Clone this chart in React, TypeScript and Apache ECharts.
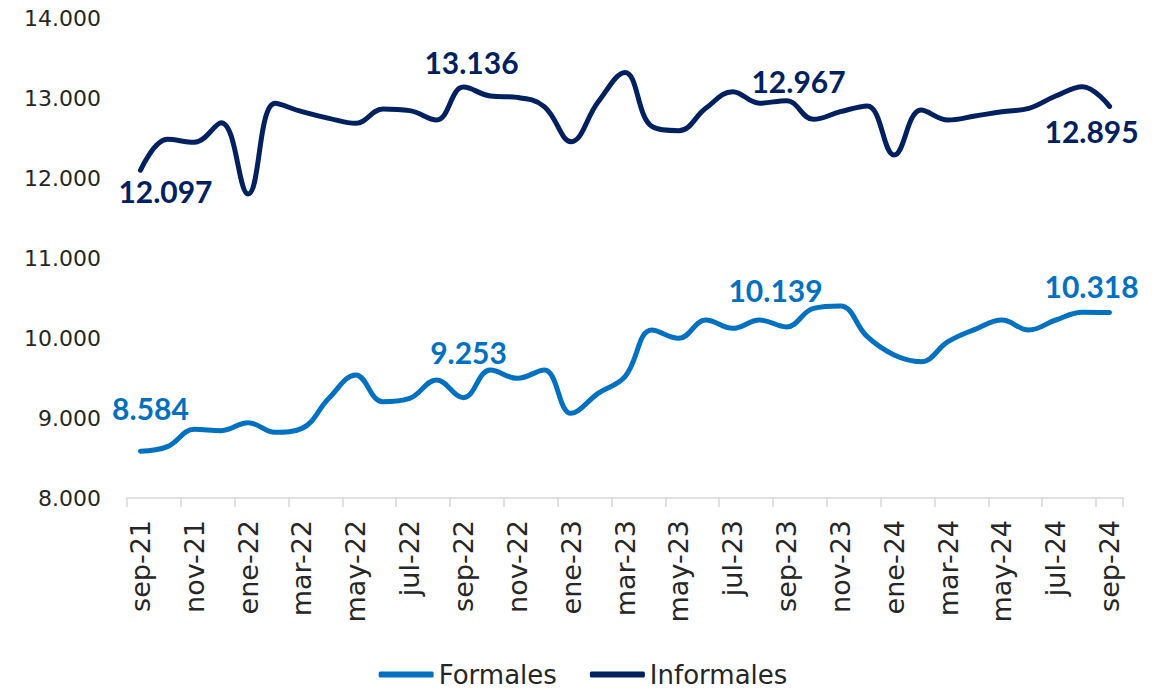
import React, { useEffect, useRef } from "react";
import * as echarts from "echarts";

const categories = [
  "sep-21", "oct-21", "nov-21", "dic-21", "ene-22", "feb-22", "mar-22", "abr-22", "may-22", "jun-22",
  "jul-22", "ago-22", "sep-22", "oct-22", "nov-22", "dic-22", "ene-23", "feb-23", "mar-23", "abr-23",
  "may-23", "jun-23", "jul-23", "ago-23", "sep-23", "oct-23", "nov-23", "dic-23", "ene-24", "feb-24",
  "mar-24", "abr-24", "may-24", "jun-24", "jul-24", "ago-24", "sep-24",
];

const formales = [
  8584, 8642, 8858, 8842, 8942, 8821, 8870, 9246, 9537, 9204,
  9246, 9475, 9253, 9600, 9496, 9600, 9058, 9308, 9517, 10100,
  9996, 10225, 10121, 10225, 10139, 10370, 10400, 10017, 9788, 9704,
  9954, 10108, 10225, 10100, 10225, 10321, 10318,
];

const informales = [
  12097, 12483, 12446, 12692, 11800, 12933, 12829, 12746, 12683, 12862,
  12842, 12725, 13136, 13025, 13008, 12892, 12454, 12950, 13320, 12645,
  12592, 12871, 13079, 12935, 12967, 12733, 12829, 12900, 12288, 12850,
  12725, 12775, 12829, 12871, 13025, 13142, 12895,
];

const yTicks = { min: 8000, max: 14000, interval: 1000 };

const labeledIdx = [0, 12, 24, 36];
const formalesLabelOffsets: Record<number, [number, number]> = {
  0: [10, -43], 12: [5, -46], 24: [-11, -37], 36: [-18, -27],
};
const informalesLabelOffsets: Record<number, [number, number]> = {
  0: [25, 21], 12: [8, -25], 24: [12, -20], 36: [-18, 25],
};

const fmt = (v: number) => {
  const s = Math.round(v).toString();
  return s.replace(/\B(?=(\d{3})+(?!\d))/g, ".");
};

const buildData = (vals: number[], offsets: Record<number, [number, number]>, color: string) =>
  vals.map((v, i) =>
    labeledIdx.includes(i)
      ? {
          value: v,
          label: {
            show: true,
            position: "inside",
            offset: offsets[i],
            formatter: () => fmt(v),
            color,
            fontFamily: "Lato",
            fontWeight: "bold",
            fontSize: 30,
          },
        }
      : v
  );

export default function App() {
  const ref = useRef<HTMLDivElement>(null);
  useEffect(() => {
    if (!ref.current) return;
    const chart = echarts.init(ref.current, undefined, { renderer: "svg" });
    const cFormal = "#0070C0";
    const cInformal = "#002060";
    chart.setOption({
      animation: false,
      backgroundColor: "#ffffff",
      grid: { left: 127, right: 43, top: 18, bottom: 192, containLabel: false },
      legend: {
        top: 661,
        left: "center",
        padding: 0,
        icon: "roundRect",
        itemWidth: 55,
        itemHeight: 6,
        itemGap: 33,
        textStyle: {
          fontFamily: "DejaVu Sans",
          fontSize: 26,
          lineHeight: 27,
          color: "#262626",
        },
        data: ["Formales", "Informales"],
      },
      xAxis: {
        type: "category",
        data: categories,
        boundaryGap: true,
        axisLine: { lineStyle: { color: "#d9d9d9", width: 1.5 } },
        axisTick: { show: true, interval: 1, length: 9, lineStyle: { color: "#d9d9d9", width: 1.5 } },
        axisLabel: {
          interval: 1,
          rotate: 90,
          margin: 22,
          fontFamily: "DejaVu Sans",
          fontSize: 27,
          color: "#262626",
        },
        splitLine: { show: false },
      },
      yAxis: {
        type: "value",
        min: yTicks.min,
        max: yTicks.max,
        interval: yTicks.interval,
        axisLine: { show: false },
        axisTick: { show: false },
        splitLine: { show: false },
        axisLabel: {
          margin: 26,
          fontFamily: "DejaVu Sans",
          fontSize: 22,
          color: "#262626",
          formatter: (v: number) => fmt(v),
        },
      },
      series: [
        {
          name: "Formales",
          type: "line",
          smooth: 0.4,
          showSymbol: true,
          showAllSymbol: true,
          symbol: "circle",
          symbolSize: 0.1,
          itemStyle: { color: cFormal },
          lineStyle: { color: cFormal, width: 5, cap: "round" },
          data: buildData(formales, formalesLabelOffsets, cFormal),
        },
        {
          name: "Informales",
          type: "line",
          smooth: 0.4,
          showSymbol: true,
          showAllSymbol: true,
          symbol: "circle",
          symbolSize: 0.1,
          itemStyle: { color: cInformal },
          lineStyle: { color: cInformal, width: 5, cap: "round" },
          data: buildData(informales, informalesLabelOffsets, cInformal),
        },
      ],
    });
    return () => chart.dispose();
  }, []);
  return (
    <div
      ref={ref}
      style={{ position: "fixed", left: 0, top: 0, width: 1166, height: 690, background: "#fff" }}
    />
  );
}
